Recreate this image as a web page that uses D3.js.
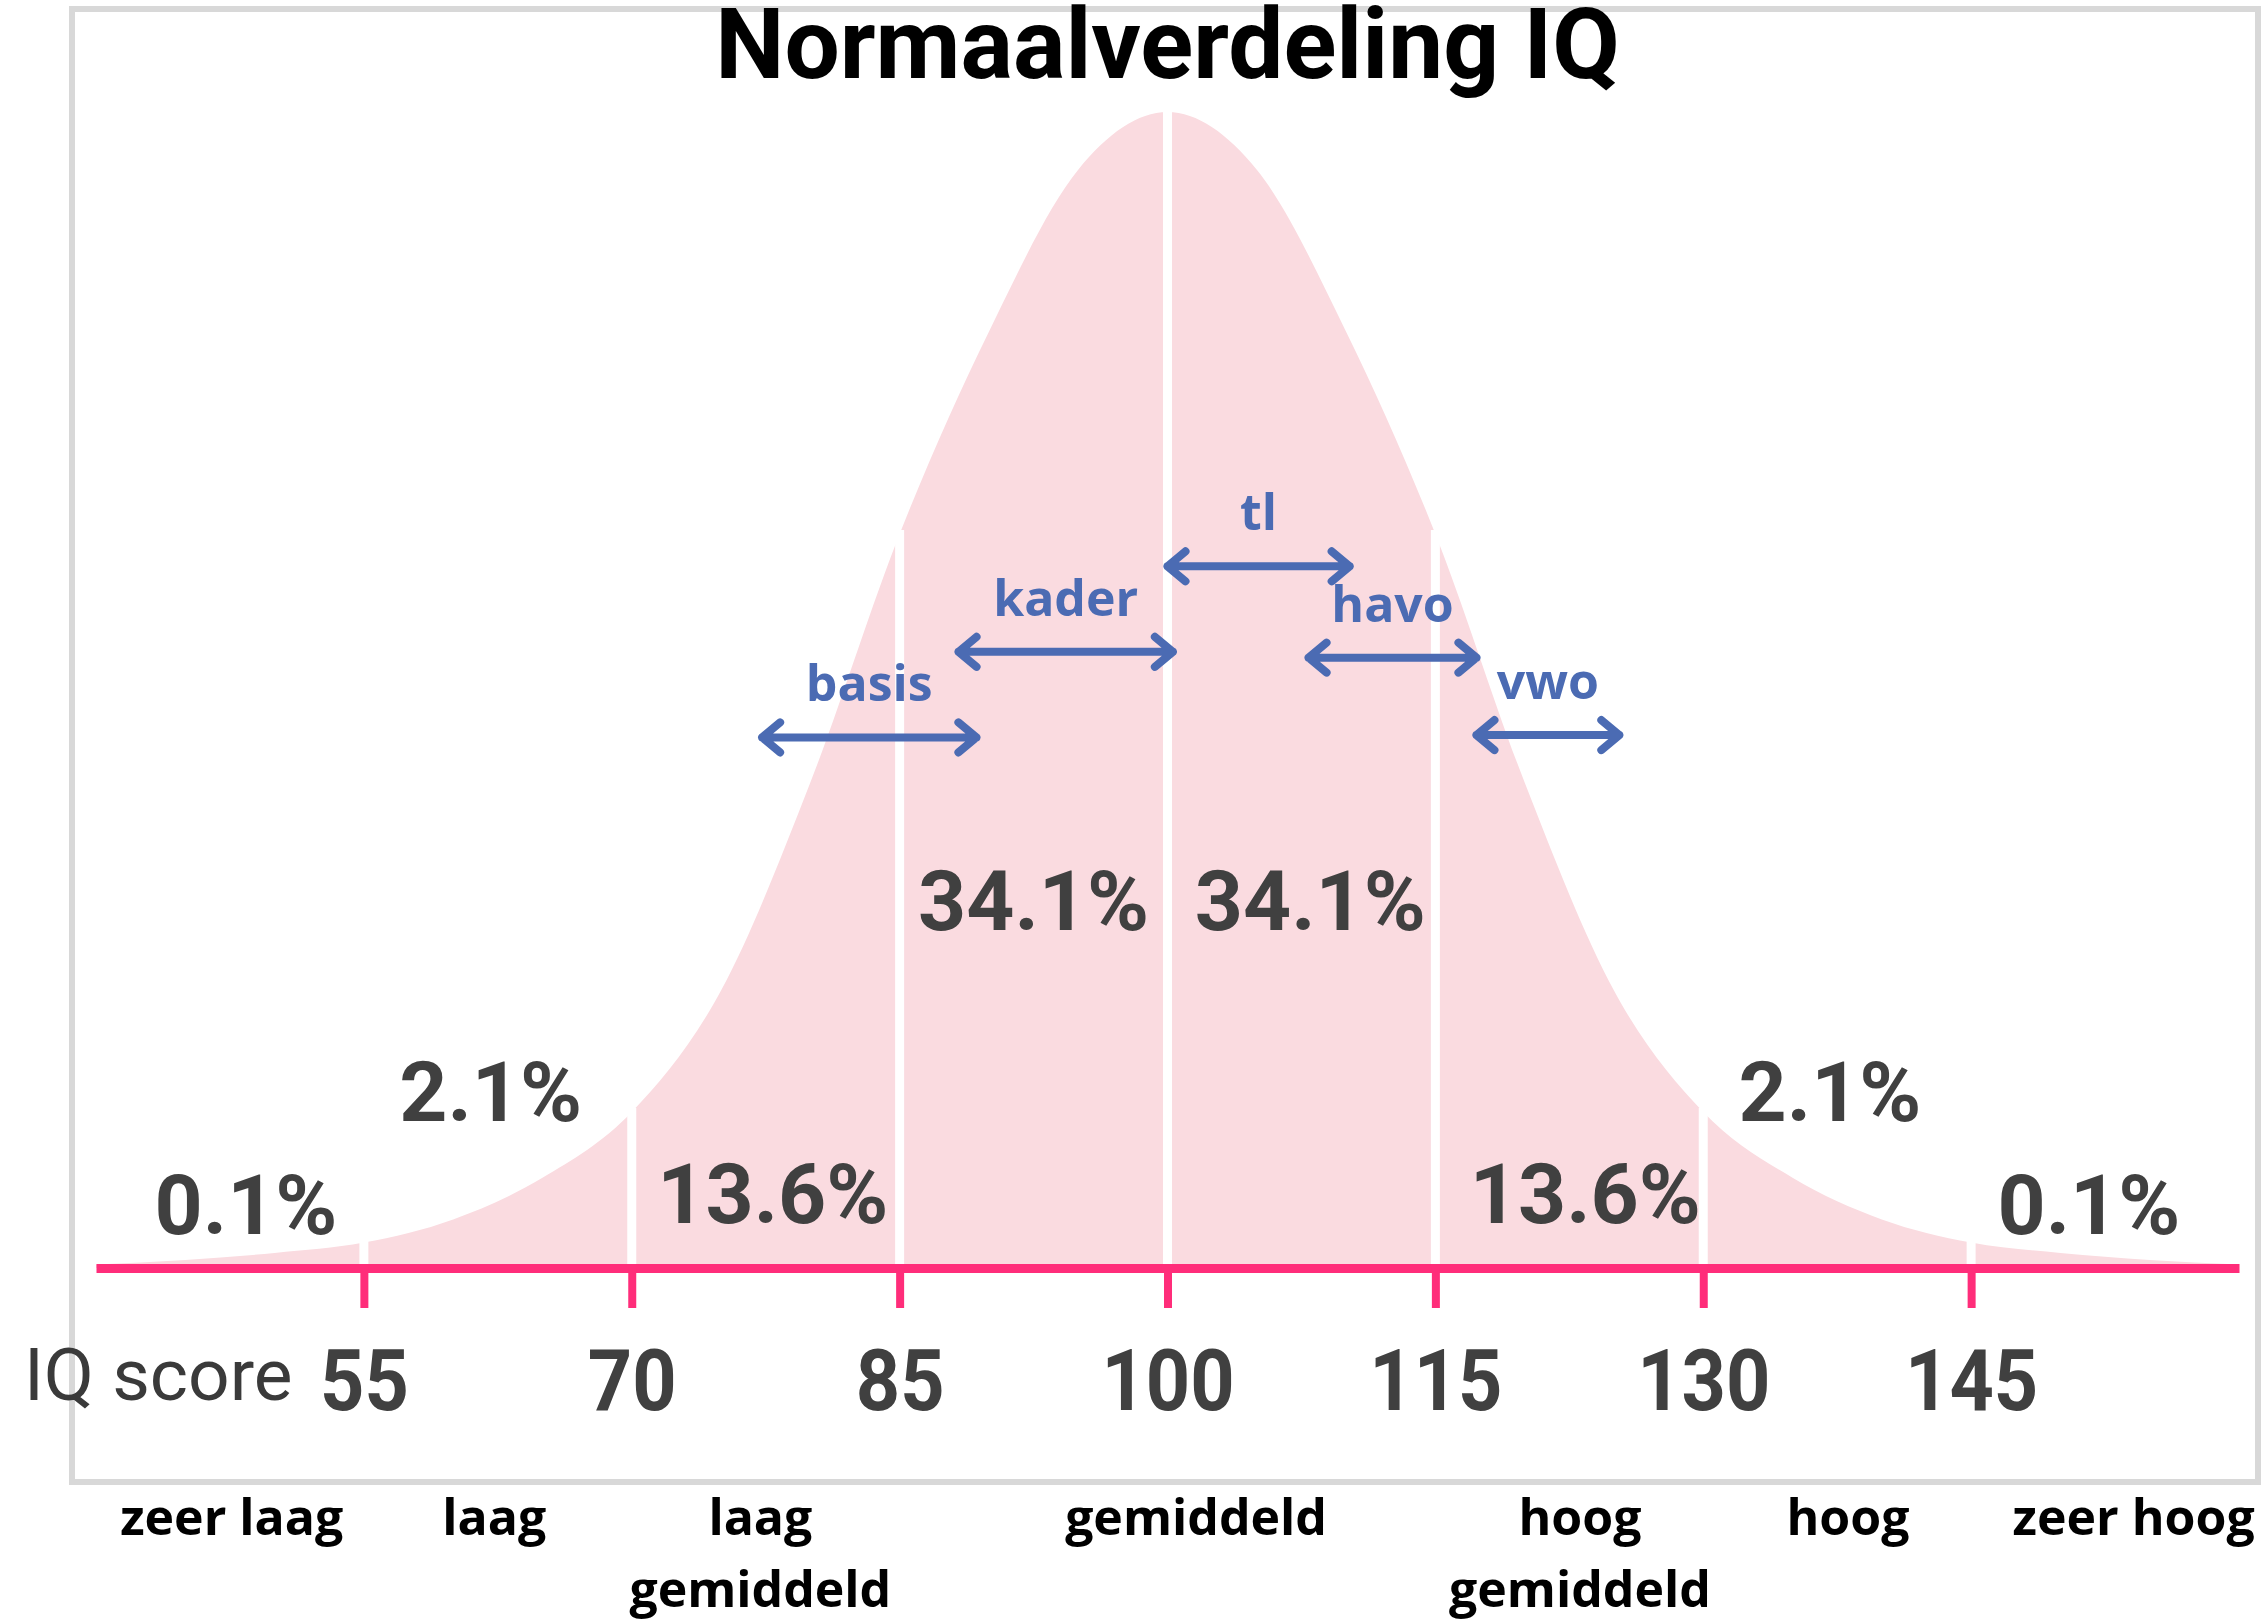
<!DOCTYPE html>
<html>
<head>
<meta charset="utf-8">
<script src="https://cdn.jsdelivr.net/npm/d3@7"></script>
<style>
  body { margin: 0; background: #fff; }
</style>
</head>
<body>
<script>
window.onload = main;

// curve heights, relative to the peak
const curveIQ = [40, 45, 50, 55, 60, 65, 70, 75, 80, 85, 90, 95, 100,
                 105, 110, 115, 120, 125, 130, 135, 140, 145, 150, 155, 160];
const curveHeight = [0.003, 0.007, 0.013, 0.022, 0.042, 0.078, 0.135, 0.24, 0.42, 0.635, 0.81, 0.95, 1.0,
                     0.95, 0.81, 0.635, 0.42, 0.24, 0.135, 0.078, 0.042, 0.022, 0.013, 0.007, 0.003];

const tickValues = [55, 70, 85, 100, 115, 130, 145];

const pctLabels = ["0.1%", "2.1%", "13.6%", "34.1%", "34.1%", "13.6%", "2.1%", "0.1%"];
const pctAt = [48.4, 62.1, 77.9, 92.5, 108.0, 123.4, 137.1, 151.6];
const pctLevel = [0.029, 0.127, 0.039, 0.292, 0.292, 0.039, 0.127, 0.029];

const levelNames = ["basis", "kader", "tl", "havo", "vwo"];
const levelFrom = [77.3, 88.3, 100, 107.9, 117.3];
const levelTo = [89.3, 100.3, 110.2, 117.3, 125.3];
const levelY = [0.459, 0.533, 0.607, 0.528, 0.461];

const categories = [["zeer laag"], ["laag"], ["laag", "gemiddeld"], ["gemiddeld"],
                    ["hoog", "gemiddeld"], ["hoog"], ["zeer hoog"]];
const categoryAt = [47.6, 62.3, 77.2, 101.6, 123.1, 138.1, 154.1];

const svgWidth = 2267;
const svgHeight = 1621;

const pink = "#fadbe0";
const axisPink = "#ff2d7a";
const blue = "#4b6bb3";
const grey = "#404040";

function main() {
    const svg = d3.select("body")
        .append("svg")
        .attr("width", svgWidth)
        .attr("height", svgHeight);

    const x = d3.scaleLinear().domain([40, 160]).range([96, 2239]);
    const y = d3.scaleLinear().domain([0, 1]).range([1268, 112]);

    // frame
    svg.append("rect")
        .attr("x", 72).attr("y", 9)
        .attr("width", 2186).attr("height", 1473)
        .attr("fill", "none")
        .attr("stroke", "#d8d8d8")
        .attr("stroke-width", 6);

    const points = curveIQ.map((v, i) => [v, curveHeight[i]]);

    const area = d3.area()
        .x(d => x(d[0]))
        .y0(y(0))
        .y1(d => y(d[1]))
        .curve(d3.curveMonotoneX);

    svg.append("path")
        .datum(points)
        .attr("d", area)
        .attr("fill", pink);

    // white dividers at each standard deviation
    const heightAt = v => curveHeight[curveIQ.indexOf(v)];
    svg.append("g")
        .selectAll("line")
        .data(tickValues)
        .join("line")
        .attr("x1", d => x(d))
        .attr("x2", d => x(d))
        .attr("y1", y(0))
        .attr("y2", d => y(heightAt(d)) - 4)
        .attr("stroke", "#fff")
        .attr("stroke-width", 9);

    // axis
    const axis = d3.axisBottom(x)
        .tickValues(tickValues)
        .tickSize(40)
        .tickSizeOuter(0)
        .tickPadding(41);

    const gAxis = svg.append("g")
        .attr("transform", `translate(0, ${y(0)})`)
        .call(axis);

    gAxis.select(".domain")
        .attr("stroke", axisPink)
        .attr("stroke-width", 9);
    gAxis.selectAll(".tick line")
        .attr("stroke", axisPink)
        .attr("stroke-width", 8);
    gAxis.selectAll(".tick text")
        .attr("fill", grey)
        .attr("transform", "scale(0.9,1)")
        .style("font-family", "Roboto")
        .style("font-weight", "bold")
        .style("font-size", "86px");

    svg.append("text")
        .attr("x", 24)
        .attr("y", 1400)
        .attr("fill", "#3a3a3a")
        .style("font-family", "Roboto")
        .style("font-size", "73px")
        .text("IQ score");

    // percentages
    svg.append("g")
        .selectAll("text")
        .data(pctLabels)
        .join("text")
        .attr("x", (d, i) => x(pctAt[i]))
        .attr("y", (d, i) => y(pctLevel[i]))
        .attr("text-anchor", "middle")
        .attr("fill", grey)
        .style("font-family", "Roboto")
        .style("font-weight", "bold")
        .style("font-size", "84px")
        .text(d => d);

    // school level arrows
    const head = 18, spread = 15;
    const arrowPath = i => {
        const x1 = x(levelFrom[i]), x2 = x(levelTo[i]), yy = y(levelY[i]);
        return `M${x1},${yy}H${x2}` +
            `M${x1 + head},${yy - spread}L${x1},${yy}L${x1 + head},${yy + spread}` +
            `M${x2 - head},${yy - spread}L${x2},${yy}L${x2 - head},${yy + spread}`;
    };

    const gArrows = svg.append("g");
    gArrows.selectAll("path")
        .data(levelNames)
        .join("path")
        .attr("d", (d, i) => arrowPath(i))
        .attr("fill", "none")
        .attr("stroke", blue)
        .attr("stroke-width", 8)
        .attr("stroke-linecap", "round")
        .attr("stroke-linejoin", "round");

    gArrows.selectAll("text")
        .data(levelNames)
        .join("text")
        .attr("x", (d, i) => x((levelFrom[i] + levelTo[i]) / 2))
        .attr("y", (d, i) => y(levelY[i]) - 36)
        .attr("text-anchor", "middle")
        .attr("fill", blue)
        .style("font-family", "Open Sans")
        .style("font-weight", "bold")
        .style("font-size", "50px")
        .text(d => d);

    // category labels below the frame
    const gCat = svg.append("g");
    categories.forEach((lines, i) => {
        const t = gCat.append("text")
            .attr("x", x(categoryAt[i]))
            .attr("y", 1535)
            .attr("text-anchor", "middle")
            .attr("fill", "#000")
            .style("font-family", "Open Sans")
            .style("font-weight", "bold")
            .style("font-size", "50px");
        lines.forEach((line, j) => {
            t.append("tspan")
                .attr("x", x(categoryAt[i]))
                .attr("dy", j === 0 ? 0 : 72)
                .text(line);
        });
    });

    // title
    svg.append("text")
        .attr("x", x(100))
        .attr("y", 78)
        .attr("text-anchor", "middle")
        .attr("fill", "#000")
        .style("font-family", "Roboto")
        .style("font-weight", "bold")
        .style("font-size", "98px")
        .text("Normaalverdeling IQ");
}
</script>
</body>
</html>
